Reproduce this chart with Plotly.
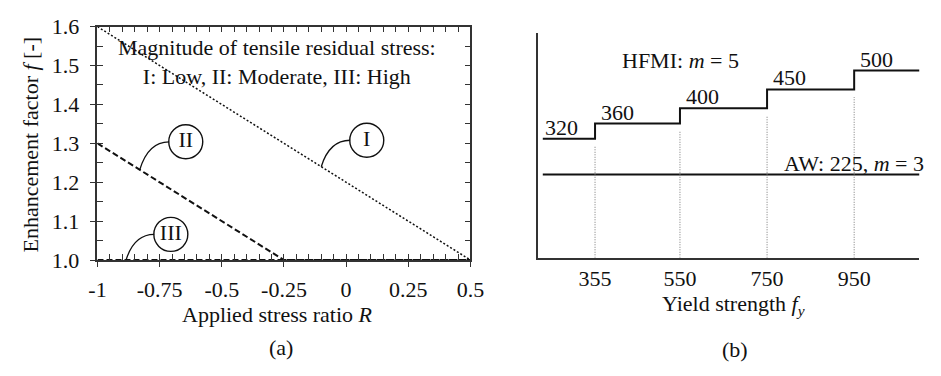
import plotly.graph_objects as go

# ---------------- (a) enhancement factor vs. stress ratio ----------------
R_I = [-1.0, 0.5]
F_I = [1.6, 1.0]
R_II = [-1.0, -0.25, 0.5]
F_II = [1.3, 1.0, 1.0]
R_III = [-1.0, 0.5]
F_III = [1.0, 1.0]

R_TICKS = [-1, -0.75, -0.5, -0.25, 0, 0.25, 0.5]
R_TICK_TEXT = ["-1", "-0.75", "-0.5", "-0.25", "0", "0.25", "0.5"]
F_TICKS = [1.0, 1.1, 1.2, 1.3, 1.4, 1.5, 1.6]
F_TICK_TEXT = ["1.0", "1.1", "1.2", "1.3", "1.4", "1.5", "1.6"]

# circled curve labels and where their leaders touch the curves
CURVE_NAMES = ["I", "II", "III"]
LABEL_R = [0.083, -0.645, -0.705]
LABEL_F = [1.308, 1.304, 1.066]
LEADER_R = [-0.10, -0.83, -0.885]
LEADER_F = [1.24, 1.232, 1.0]

# ---------------- (b) FAT classes vs. yield strength ----------------
FY_EDGES = [235, 355, 550, 750, 950, 1100]
FAT_HFMI = [320, 360, 400, 450, 500]
FAT_AW = 225
FY_TICKS = [355, 550, 750, 950]

FONT = "Liberation Serif"
FS = 22
INK = "#111111"

fig = go.Figure()

# ---- panel (a) curves ----
fig.add_trace(go.Scatter(x=R_III, y=F_III, mode="lines", cliponaxis=False,
                         line=dict(color=INK, width=2, dash="6px,3px"),
                         xaxis="x", yaxis="y", showlegend=False))
fig.add_trace(go.Scatter(x=R_II, y=F_II, mode="lines", cliponaxis=False,
                         line=dict(color=INK, width=2, dash="6px,3px"),
                         xaxis="x", yaxis="y", showlegend=False))
fig.add_trace(go.Scatter(x=R_I, y=F_I, mode="lines", cliponaxis=False,
                         line=dict(color=INK, width=1.5, dash="2px,2px"),
                         xaxis="x", yaxis="y", showlegend=False))

# circled labels
fig.add_trace(go.Scatter(x=LABEL_R, y=LABEL_F, mode="markers+text",
                         text=CURVE_NAMES, textposition="middle center",
                         textfont=dict(family=FONT, size=FS, color=INK),
                         marker=dict(symbol="circle-open", size=34,
                                     color=INK, line=dict(width=1.4, color=INK)),
                         xaxis="x", yaxis="y", showlegend=False))

# leader curves from each curve to its circle
x_px_per_unit = 382.3 / 1.5
circle_r = 17 / x_px_per_unit
for r0, f0, rc, fc in zip(LEADER_R, LEADER_F, LABEL_R, LABEL_F):
    r1 = rc - circle_r
    ctrl_r = r0 + 0.28 * (r1 - r0)
    fig.add_shape(type="path", xref="x", yref="y",
                  path=f"M {r0},{f0} Q {ctrl_r},{fc} {r1},{fc}",
                  line=dict(color=INK, width=1.3))

# invisible traces so the overlay axes carrying the outward ticks are drawn
fig.add_trace(go.Scatter(x=[None], y=[None], xaxis="x3", yaxis="y", showlegend=False))
fig.add_trace(go.Scatter(x=[None], y=[None], xaxis="x", yaxis="y3", showlegend=False))

# ---- panel (b) ----
step_x = FY_EDGES
step_y = FAT_HFMI + [FAT_HFMI[-1]]
fig.add_trace(go.Scatter(x=step_x, y=step_y, mode="lines", line_shape="hv",
                         line=dict(color=INK, width=2),
                         xaxis="x2", yaxis="y2", showlegend=False))
fig.add_trace(go.Scatter(x=[FY_EDGES[0], FY_EDGES[-1]], y=[FAT_AW, FAT_AW],
                         mode="lines", line=dict(color=INK, width=2),
                         xaxis="x2", yaxis="y2", showlegend=False))

Y2_RANGE = [5, 598]
gap = 20  # space left under each step
vx, vy = [], []
for fy, fat in zip(FY_TICKS, FAT_HFMI[:-1]):
    vx += [fy, fy, None]
    vy += [Y2_RANGE[0], fat - gap, None]
fig.add_trace(go.Scatter(x=vx, y=vy, mode="lines",
                         line=dict(color="#777777", width=1, dash="1px,1.5px"),
                         xaxis="x2", yaxis="y2", showlegend=False))

annotations = []
for i, fat in enumerate(FAT_HFMI):
    annotations.append(dict(x=FY_EDGES[i], y=fat, xref="x2", yref="y2",
                            text=str(fat), showarrow=False, xanchor="left",
                            yanchor="bottom", xshift=(0 if i == 0 else 4), yshift=-3,
                            font=dict(family=FONT, size=FS, color=INK)))
annotations.append(dict(x=FY_EDGES[-1], y=FAT_AW, xref="x2", yref="y2",
                        text=f"AW: {FAT_AW}, <i>m</i> = 3", showarrow=False,
                        xanchor="right", yanchor="bottom", xshift=7, yshift=-3,
                        font=dict(family=FONT, size=FS, color=INK)))
annotations.append(dict(x=551, y=526, xref="x2", yref="y2",
                        text="HFMI: <i>m</i> = 5", showarrow=False,
                        xanchor="center", yanchor="middle",
                        font=dict(family=FONT, size=FS, color=INK)))

# panel (a) texts
annotations.append(dict(x=-0.277, y=1.508, xref="x", yref="y",
                        text="Magnitude of tensile residual stress:<br>I: Low, II: Moderate, III: High",
                        showarrow=False, align="center", xanchor="center", yanchor="middle",
                        font=dict(family=FONT, size=FS, color=INK)))


def paper_text(text, px, py, angle=0):
    return dict(x=px / 941, y=1 - py / 376, xref="paper", yref="paper",
                text=text, showarrow=False, textangle=angle,
                xanchor="center", yanchor="middle",
                font=dict(family=FONT, size=FS, color=INK))


annotations.append(paper_text("Applied stress ratio <i>R</i>", 275, 324))
annotations.append(paper_text("Enhancement factor <i>f</i> [-]", 22, 141.5, -90))
annotations.append(paper_text("(a)", 279, 359))
annotations.append(paper_text("Yield strength <i>f</i><sub><i>y</i></sub>", 742.5, 314))
annotations.append(paper_text("(b)", 744, 361.7))

AX_LINE = "#333333"
dom_ax = [90.7 / 941, 473 / 941]
dom_ay = [1 - 265.7 / 376, 1 - 15.7 / 376]

fig.update_layout(
    width=941, height=376,
    margin=dict(l=0, r=0, t=0, b=0),
    paper_bgcolor="white", plot_bgcolor="white",
    font=dict(family=FONT, size=FS, color=INK),
    annotations=annotations,
    xaxis=dict(domain=dom_ax, anchor="y", range=[-1, 0.5],
               tickmode="array", tickvals=R_TICKS, ticktext=R_TICK_TEXT,
               ticks="inside", ticklen=6, tickwidth=1.3, tickcolor=AX_LINE,
               minor=dict(dtick=0.05, tick0=0, ticks="inside", ticklen=6,
                          tickwidth=1.3, tickcolor=AX_LINE, showgrid=False),
               showline=True, linecolor=AX_LINE, linewidth=1.5, mirror="allticks",
               showgrid=False, zeroline=False, ticklabelstandoff=9,
               tickfont=dict(family=FONT, size=FS, color=INK)),
    yaxis=dict(domain=dom_ay, anchor="x", range=[1.0, 1.6],
               tickmode="array", tickvals=F_TICKS, ticktext=F_TICK_TEXT,
               ticks="inside", ticklen=6, tickwidth=1.3, tickcolor=AX_LINE,
               minor=dict(dtick=0.05, tick0=0, ticks="inside", ticklen=6,
                          tickwidth=1.3, tickcolor=AX_LINE, showgrid=False),
               showline=True, linecolor=AX_LINE, linewidth=1.5, mirror="allticks",
               showgrid=False, zeroline=False, ticklabelstandoff=12,
               tickfont=dict(family=FONT, size=FS, color=INK)),
    xaxis3=dict(overlaying="x", anchor="y", side="bottom", range=[-1, 0.5],
                tickmode="array", tickvals=R_TICKS, showticklabels=False,
                ticks="outside", ticklen=6, tickwidth=1.3, tickcolor=AX_LINE,
                showline=False, showgrid=False, zeroline=False),
    yaxis3=dict(overlaying="y", anchor="x", side="left", range=[1.0, 1.6],
                tickmode="array", tickvals=F_TICKS, showticklabels=False,
                ticks="outside", ticklen=6, tickwidth=1.3, tickcolor=AX_LINE,
                showline=False, showgrid=False, zeroline=False),
    xaxis2=dict(domain=[542.7 / 941, 933.3 / 941], anchor="y2", range=[225, 1100],
                tickmode="array", tickvals=FY_TICKS, ticks="",
                showline=True, linecolor=AX_LINE, linewidth=1.5,
                showgrid=False, zeroline=False, ticklabelstandoff=0,
                tickfont=dict(family=FONT, size=FS, color=INK)),
    yaxis2=dict(domain=[1 - 263.3 / 376, 1 - 23 / 376], anchor="x2", range=Y2_RANGE,
                showticklabels=False, ticks="",
                showline=True, linecolor=AX_LINE, linewidth=1.5,
                showgrid=False, zeroline=False),
)

fig.write_html("out.html")
